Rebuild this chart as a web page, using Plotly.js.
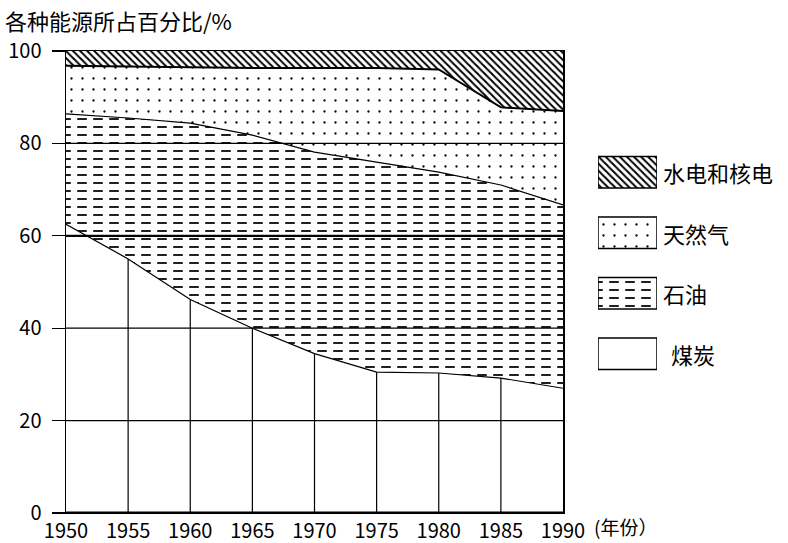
<!DOCTYPE html>
<html><head><meta charset="utf-8">
<script src="https://cdn.plot.ly/plotly-3.0.1.min.js"></script>
<style>html,body{margin:0;padding:0;background:#fff}</style>
</head><body><div id="chart" style="width:788px;height:543px"></div>
<script>
// ---- data (shares in %) ----
const years = [1950, 1955, 1960, 1965, 1970, 1975, 1980, 1985, 1990];
const coal  = [62.5, 55.0, 46.2, 40.0, 34.5, 30.5, 30.3, 29.2, 27.0];
const oil   = [23.9, 30.5, 38.2, 41.8, 43.6, 45.5, 43.5, 41.8, 39.7];
const gas   = [10.4, 11.1, 12.0, 14.5, 18.2, 20.3, 22.2, 16.8, 20.3];
const hydro = [3.2, 3.4, 3.6, 3.7, 3.7, 3.7, 4.0, 12.2, 13.0];
const seriesNames = ['水电和核电', '天然气', '石油', '煤炭'];
const yTicks = [0, 20, 40, 60, 80, 100];
const yTickText = ['0', '20', '40', '60', '80', '100'];
const xTickText = ['1950', '1955', '1960', '1965', '1970', '1975', '1980', '1985', '1990'];
const titleText = '各种能源所占百分比/%';
const xUnitText = '(年份）';

const FONT = '"Noto Sans CJK SC", "Noto Sans", sans-serif';
const add = (a, b) => a.map((v, i) => v + b[i]);
const coalTop = coal.slice();
const oilTop = add(coalTop, oil);
const gasTop = add(oilTop, gas);
const hydroTop = add(gasTop, hydro);

const NONE = 'rgba(0,0,0,0)';
const patHydro = {shape: '\\', size: 5, solidity: 0.4, fgcolor: '#000', bgcolor: NONE};
const patGas = {shape: '.', size: 11, solidity: 0.035, fgcolor: '#000', bgcolor: NONE};
const patOil = {shape: '-', size: 8, solidity: 0.22, fgcolor: '#000', bgcolor: NONE};
const patOilCut = {shape: '|', size: 16, solidity: 0.4, fgcolor: '#fff', bgcolor: NONE};

const base = {type: 'scatter', mode: 'lines', hoverinfo: 'skip', showlegend: false, xaxis: 'x', yaxis: 'y'};
const traces = [];
// fills
traces.push(Object.assign({}, base, {x: years, y: coalTop, fill: 'tozeroy', fillcolor: NONE, line: {width: 0}}));
traces.push(Object.assign({}, base, {x: years, y: oilTop, fill: 'tonexty', fillcolor: NONE, fillpattern: patOil, line: {width: 0}}));
traces.push(Object.assign({}, base, {x: years, y: coalTop, line: {width: 0}}));
traces.push(Object.assign({}, base, {x: years, y: oilTop, fill: 'tonexty', fillcolor: NONE, fillpattern: patOilCut, line: {width: 0}}));
traces.push(Object.assign({}, base, {x: years, y: gasTop, fill: 'tonexty', fillcolor: NONE, fillpattern: patGas, line: {width: 0}}));
traces.push(Object.assign({}, base, {x: years, y: hydroTop, fill: 'tonexty', fillcolor: NONE, fillpattern: patHydro, line: {width: 0}}));
// vertical lines inside coal area
const vx = [], vy = [];
years.forEach((yr, i) => { if (i > 0 && i < years.length - 1) { vx.push(yr, yr, null); vy.push(0, coalTop[i], null); } });
traces.push(Object.assign({}, base, {x: vx, y: vy, line: {color: '#000', width: 1.2}}));
// boundary lines
traces.push(Object.assign({}, base, {x: years, y: coalTop, line: {color: '#000', width: 1.2}}));
traces.push(Object.assign({}, base, {x: years, y: oilTop, line: {color: '#000', width: 1.2}}));
traces.push(Object.assign({}, base, {x: years, y: gasTop, line: {color: '#000', width: 2}}));

// legend (own small subplot)
const legPats = [patHydro, patGas, patOil, null];
const lb = {type: 'scatter', mode: 'lines', hoverinfo: 'skip', showlegend: false, xaxis: 'x2', yaxis: 'y2'};
const h = 0.26;
seriesNames.forEach((name, i) => {
  const bx = [0, 1, 1, 0, 0];
  const by = [i - h, i - h, i + h, i + h, i - h];
  if (legPats[i]) {
    traces.push(Object.assign({}, lb, {x: bx, y: by, fill: 'toself', fillcolor: NONE, fillpattern: legPats[i], line: {width: 0}}));
    if (legPats[i] === patOil) {
      traces.push(Object.assign({}, lb, {x: bx, y: by, fill: 'toself', fillcolor: NONE, fillpattern: patOilCut, line: {width: 0}}));
    }
  }
  traces.push(Object.assign({}, lb, {x: bx, y: by, line: {color: '#000', width: 1.5}}));
});

const W = 788, H = 543, ML = 66, MR = 6, MT = 51, MB = 30;
const PW = W - ML - MR, PH = H - MT - MB;
const px2x = p => (p - ML) / PW;
const px2y = p => (H - MB - p) / PH;

const shapes = [];
yTicks.forEach(v => {
  if (v > 0 && v < 100) {
    shapes.push({type: 'line', xref: 'x', yref: 'y', x0: years[0], x1: years[years.length - 1], y0: v, y1: v,
      line: {color: '#000', width: v === 60 ? 2.2 : 1.2}, layer: 'above'});
  }
});
shapes.push({type: 'line', xref: 'x', yref: 'y', x0: years[0], x1: years[years.length - 1], y0: 0, y1: 0,
  line: {color: '#000', width: 3}, layer: 'above'});

const annotations = seriesNames.map((name, i) => ({
  xref: 'x2', yref: 'y2', x: 1, y: i, xanchor: 'left', yanchor: 'middle', xshift: i === 3 ? 12 : 4,
  text: name, showarrow: false, font: {family: FONT, size: 22, color: '#000'}
}));
annotations.push({xref: 'paper', yref: 'paper', x: px2x(592), y: px2y(526), xanchor: 'left', yanchor: 'middle',
  text: xUnitText, showarrow: false, font: {family: FONT, size: 19, color: '#000'}});

const layout = {
  width: W, height: H,
  margin: {l: ML, r: MR, t: MT, b: MB, pad: 0},
  paper_bgcolor: '#fff', plot_bgcolor: '#fff',
  font: {family: FONT, color: '#000'},
  showlegend: false,
  title: {text: titleText, xref: 'container', yref: 'container', x: 5 / W, xanchor: 'left', y: 1 - 22 / H, yanchor: 'middle',
    font: {family: FONT, size: 22, color: '#000'}},
  xaxis: {domain: [0, px2x(563)], range: [years[0], years[years.length - 1]], tickvals: years, ticktext: xTickText,
    ticks: '', showgrid: false, zeroline: false, showline: true, mirror: true, linecolor: '#000', linewidth: 1.2,
    tickfont: {family: FONT, size: 20, color: '#000'}, fixedrange: true},
  yaxis: {domain: [0, 1], range: [0, 100], tickvals: yTicks, ticktext: yTickText, ticks: 'outside', ticklen: 13,
    tickcolor: '#000', tickwidth: 1.2, showgrid: false, zeroline: false, showline: true, mirror: true, linecolor: '#000', linewidth: 1.5,
    ticklabelstandoff: 6, tickfont: {family: FONT, size: 20, color: '#000'}, fixedrange: true},
  xaxis2: {domain: [px2x(598), px2x(657)], range: [0, 1], visible: false, anchor: 'y2', fixedrange: true},
  yaxis2: {domain: [px2y(384), px2y(142)], range: [3.5, -0.5], visible: false, anchor: 'x2', fixedrange: true},
  shapes: shapes,
  annotations: annotations
};

Plotly.newPlot('chart', traces, layout, {displayModeBar: false, staticPlot: true});
</script>
</body></html>
